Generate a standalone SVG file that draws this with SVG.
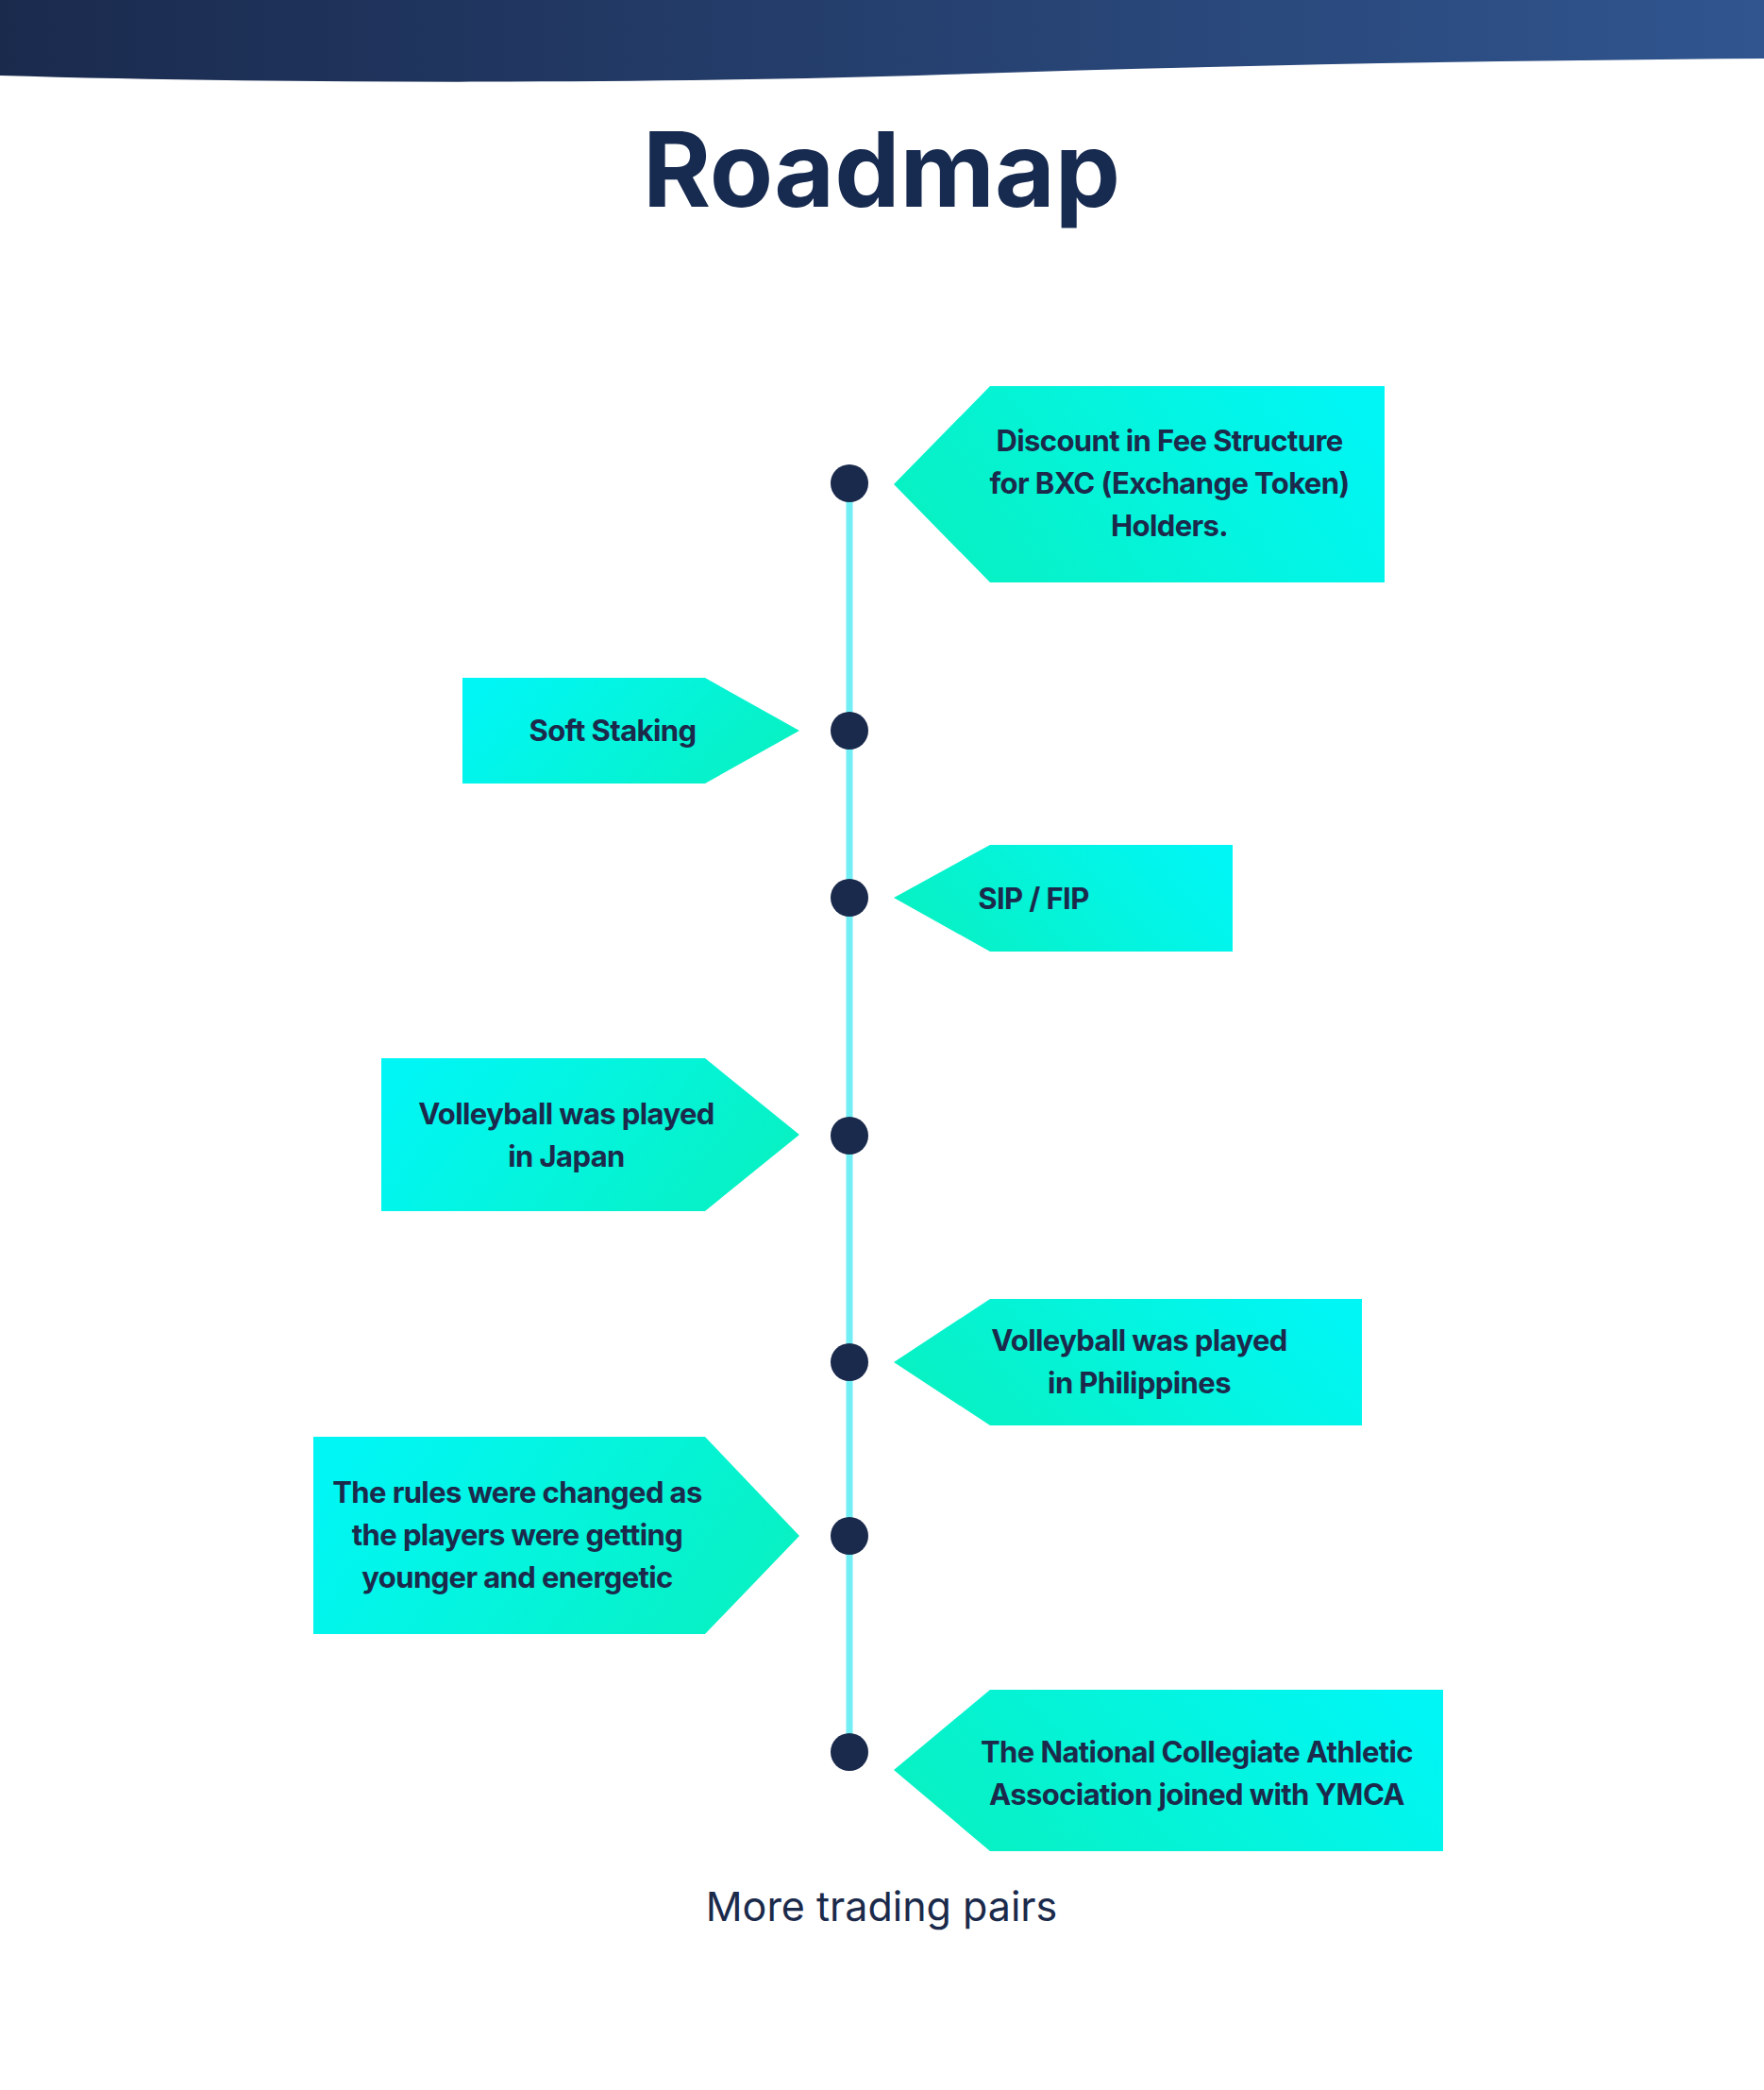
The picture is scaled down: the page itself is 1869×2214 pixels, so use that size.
<svg xmlns="http://www.w3.org/2000/svg" width="1869" height="2214" viewBox="0 0 1869 2214">
<style>
.lbl{font-family:Inter,"Liberation Sans",sans-serif;font-weight:700;font-size:31px;fill:#1b2a4b;letter-spacing:-0.6px}
.dot{fill:#1a2a4c}
.tl{stroke:#72eef5;stroke-width:7}
</style>
<defs>
<linearGradient id="hdr" x1="0" y1="0" x2="1" y2="0">
<stop offset="0" stop-color="#1a2a4d"/>
<stop offset="1" stop-color="#30558f"/>
</linearGradient>
<linearGradient id="gR" x1="0" y1="0.65" x2="1" y2="0.35">
<stop offset="0" stop-color="#08f1c2"/>
<stop offset="1" stop-color="#00f6f4"/>
</linearGradient>
<linearGradient id="gL" x1="0" y1="0.35" x2="1" y2="0.65">
<stop offset="0" stop-color="#00f6f4"/>
<stop offset="1" stop-color="#08f1c2"/>
</linearGradient>
</defs>
<rect width="1869" height="2214" fill="#ffffff"/>
<path id="header" d="M0,0 H1869 V62 C1600,64 1300,69 1000,79 C700,89 300,89 0,80 Z" fill="url(#hdr)"/>
<text x="934" y="219" text-anchor="middle" font-family="Inter,'Liberation Sans',sans-serif" font-weight="700" font-size="110" fill="#172a4f">Roadmap</text>

<g id="connectors">
<line class="tl" x1="900" y1="512" x2="900" y2="1856"/>
</g>

<g id="node1">
<polygon points="947,513 1049,409 1467,409 1467,617 1049,617" fill="url(#gR)"/>
<circle class="dot" cx="900" cy="512" r="20"/>
<text class="lbl" text-anchor="middle"><tspan x="1239" y="478">Discount in Fee Structure</tspan><tspan x="1239" y="523">for BXC (Exchange Token)</tspan><tspan x="1239" y="568">Holders.</tspan></text>
</g>

<g id="node2">
<polygon points="490,718 747,718 847,774 747,830 490,830" fill="url(#gL)"/>
<circle class="dot" cx="900" cy="774" r="20"/>
<text class="lbl" x="649" y="785" text-anchor="middle">Soft Staking</text>
</g>

<g id="node3">
<polygon points="947,951 1049,895 1306,895 1306,1008 1049,1008" fill="url(#gR)"/>
<circle class="dot" cx="900" cy="951" r="20"/>
<text class="lbl" x="1095" y="963" text-anchor="middle">SIP / FIP</text>
</g>

<g id="node4">
<polygon points="404,1121 747,1121 847,1202 747,1283 404,1283" fill="url(#gL)"/>
<circle class="dot" cx="900" cy="1203" r="20"/>
<text class="lbl" text-anchor="middle"><tspan x="600" y="1191">Volleyball was played</tspan><tspan x="600" y="1236">in Japan</tspan></text>
</g>

<g id="node5">
<polygon points="947,1443 1049,1376 1443,1376 1443,1510 1049,1510" fill="url(#gR)"/>
<circle class="dot" cx="900" cy="1443" r="20"/>
<text class="lbl" text-anchor="middle"><tspan x="1207" y="1431">Volleyball was played</tspan><tspan x="1207" y="1476">in Philippines</tspan></text>
</g>

<g id="node6">
<polygon points="332,1522 747,1522 847,1627 747,1731 332,1731" fill="url(#gL)"/>
<circle class="dot" cx="900" cy="1627" r="20"/>
<text class="lbl" text-anchor="middle"><tspan x="548" y="1592">The rules were changed as</tspan><tspan x="548" y="1637">the players were getting</tspan><tspan x="548" y="1682">younger and energetic</tspan></text>
</g>

<g id="node7">
<polygon points="947,1875 1049,1790 1529,1790 1529,1961 1049,1961" fill="url(#gR)"/>
<circle class="dot" cx="900" cy="1856" r="20"/>
<text class="lbl" text-anchor="middle"><tspan x="1268" y="1867">The National Collegiate Athletic</tspan><tspan x="1268" y="1912">Association joined with YMCA</tspan></text>
</g>

<text x="934" y="2035" text-anchor="middle" font-family="Inter,'Liberation Sans',sans-serif" font-size="43" fill="#1b2a4b">More trading pairs</text>
</svg>
